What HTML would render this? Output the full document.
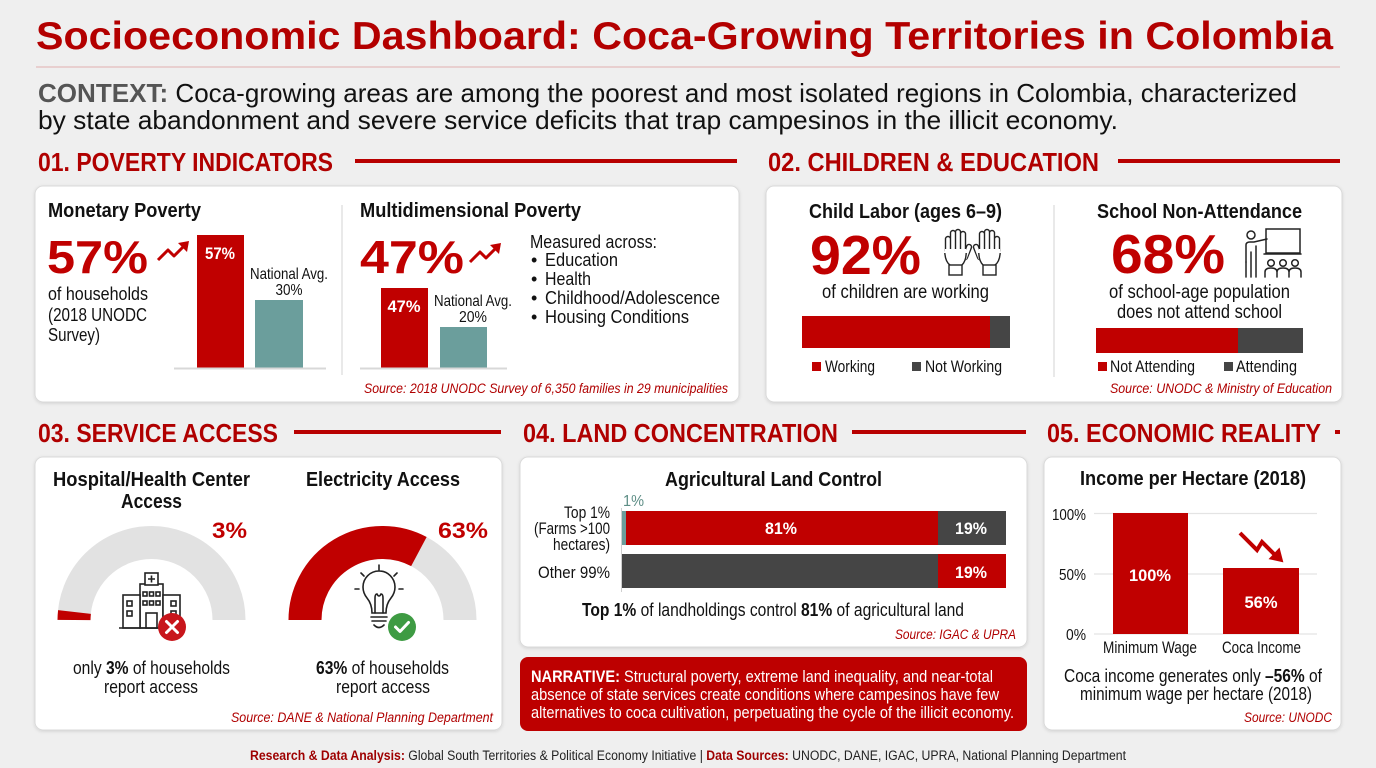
<!DOCTYPE html>
<html><head><meta charset="utf-8"><style>
html,body{margin:0;padding:0;background:#efefef;width:1376px;height:768px;overflow:hidden}
svg{display:block}
</style></head><body>
<svg width="1376" height="768" viewBox="0 0 1376 768" font-family="'Liberation Sans', Arial, sans-serif">
<defs>
<filter id="sh" x="-5%" y="-5%" width="110%" height="115%"><feDropShadow dx="0" dy="1" stdDeviation="1.5" flood-color="#000" flood-opacity="0.12"/></filter>
</defs>
<rect width="1376" height="768" fill="#efefef"/>

<!-- Title -->
<text x="36" y="49" font-size="39" font-weight="bold" fill="#b30000" textLength="1297" lengthAdjust="spacingAndGlyphs">Socioeconomic Dashboard: Coca-Growing Territories in Colombia</text>
<line x1="36" y1="67" x2="1340" y2="67" stroke="#e4bcbc" stroke-width="1.2"/>
<text x="38" y="102" font-size="26" fill="#111" textLength="1259" lengthAdjust="spacingAndGlyphs"><tspan font-weight="bold" fill="#555">CONTEXT:</tspan> Coca-growing areas are among the poorest and most isolated regions in Colombia, characterized</text>
<text x="38" y="129" font-size="26" fill="#111" textLength="1080" lengthAdjust="spacingAndGlyphs">by state abandonment and severe service deficits that trap campesinos in the illicit economy.</text>

<!-- Section headers -->
<g font-size="26" font-weight="bold" fill="#b00000">
<text x="38" y="171" textLength="295" lengthAdjust="spacingAndGlyphs">01. POVERTY INDICATORS</text>
<text x="768" y="171" textLength="331" lengthAdjust="spacingAndGlyphs">02. CHILDREN &amp; EDUCATION</text>
<text x="38" y="442" textLength="240" lengthAdjust="spacingAndGlyphs">03. SERVICE ACCESS</text>
<text x="523" y="442" textLength="315" lengthAdjust="spacingAndGlyphs">04. LAND CONCENTRATION</text>
<text x="1047" y="442" textLength="274" lengthAdjust="spacingAndGlyphs">05. ECONOMIC REALITY</text>
</g>
<g fill="#b80000">
<rect x="355" y="159" width="382" height="4"/>
<rect x="1118" y="159" width="222" height="4"/>
<rect x="294" y="430" width="207" height="4"/>
<rect x="852" y="430" width="174" height="4"/>
<rect x="1335" y="430" width="5" height="4"/>
</g>

<!-- Cards -->
<g fill="#fff" stroke="#dadada" stroke-width="1" filter="url(#sh)">
<rect x="35" y="186" width="704" height="216" rx="8"/>
<rect x="766" y="186" width="576" height="216" rx="8"/>
<rect x="35" y="457" width="467" height="273" rx="8"/>
<rect x="520" y="457" width="507" height="190" rx="8"/>
<rect x="1044" y="457" width="297" height="273" rx="8"/>
</g>
<rect x="520" y="657" width="507" height="74" rx="8" fill="#bd0000"/>

<!-- Card 1 -->
<text x="48" y="217" font-size="20" font-weight="bold" fill="#111" textLength="153" lengthAdjust="spacingAndGlyphs">Monetary Poverty</text>
<text x="47" y="273" font-size="46" font-weight="bold" fill="#c00000" textLength="101" lengthAdjust="spacingAndGlyphs">57%</text>
<g stroke="#c00000" stroke-width="3" fill="none" stroke-linejoin="round"><polyline points="158,260 168,250 174,256 184,246"/></g>
<polygon points="189,241 178,243 187,252" fill="#c00000"/>
<g font-size="18" fill="#111">
<text x="48" y="300" textLength="100" lengthAdjust="spacingAndGlyphs">of households</text>
<text x="48" y="321" textLength="99" lengthAdjust="spacingAndGlyphs">(2018 UNODC</text>
<text x="48" y="341" textLength="52" lengthAdjust="spacingAndGlyphs">Survey)</text>
</g>
<rect x="197" y="235" width="47" height="133" fill="#c00000"/>
<rect x="255" y="300" width="48" height="68" fill="#6b9e9c"/>
<line x1="174" y1="368.5" x2="326" y2="368.5" stroke="#d8d8d8" stroke-width="2"/>
<text x="220" y="259" font-size="17" font-weight="bold" fill="#fff" text-anchor="middle" textLength="30" lengthAdjust="spacingAndGlyphs">57%</text>
<text x="289" y="279" font-size="16" fill="#111" text-anchor="middle" textLength="78" lengthAdjust="spacingAndGlyphs">National Avg.</text>
<text x="289" y="295" font-size="16" fill="#111" text-anchor="middle" textLength="27" lengthAdjust="spacingAndGlyphs">30%</text>

<line x1="342" y1="205" x2="342" y2="375" stroke="#e2e2e2" stroke-width="1.5"/>

<text x="360" y="217" font-size="20" font-weight="bold" fill="#111" textLength="221" lengthAdjust="spacingAndGlyphs">Multidimensional Poverty</text>
<text x="360" y="273" font-size="46" font-weight="bold" fill="#c00000" textLength="104" lengthAdjust="spacingAndGlyphs">47%</text>
<g stroke="#c00000" stroke-width="3" fill="none" stroke-linejoin="round"><polyline points="470,262 480,252 486,258 496,248"/></g>
<polygon points="501,243 490,245 499,254" fill="#c00000"/>
<rect x="381" y="288" width="47" height="80" fill="#c00000"/>
<rect x="440" y="327" width="47" height="41" fill="#6b9e9c"/>
<line x1="360" y1="368.5" x2="507" y2="368.5" stroke="#d8d8d8" stroke-width="2"/>
<text x="404" y="312" font-size="17" font-weight="bold" fill="#fff" text-anchor="middle" textLength="33" lengthAdjust="spacingAndGlyphs">47%</text>
<text x="473" y="306" font-size="16" fill="#111" text-anchor="middle" textLength="78" lengthAdjust="spacingAndGlyphs">National Avg.</text>
<text x="473" y="322" font-size="16" fill="#111" text-anchor="middle" textLength="28" lengthAdjust="spacingAndGlyphs">20%</text>
<g font-size="18" fill="#111">
<text x="530" y="248" textLength="127" lengthAdjust="spacingAndGlyphs">Measured across:</text>
<text x="531" y="266">•</text><text x="545" y="266" textLength="73" lengthAdjust="spacingAndGlyphs">Education</text>
<text x="531" y="285">•</text><text x="545" y="285" textLength="46" lengthAdjust="spacingAndGlyphs">Health</text>
<text x="531" y="304">•</text><text x="545" y="304" textLength="175" lengthAdjust="spacingAndGlyphs">Childhood/Adolescence</text>
<text x="531" y="323">•</text><text x="545" y="323" textLength="144" lengthAdjust="spacingAndGlyphs">Housing Conditions</text>
</g>
<text x="364" y="393" font-size="13.5" font-style="italic" fill="#b00000" textLength="364" lengthAdjust="spacingAndGlyphs">Source: 2018 UNODC Survey of 6,350 families in 29 municipalities</text>

<!-- Card 2 -->
<text x="809" y="218" font-size="20" font-weight="bold" fill="#111" textLength="193" lengthAdjust="spacingAndGlyphs">Child Labor (ages 6–9)</text>
<text x="810" y="274" font-size="55" font-weight="bold" fill="#c00000" textLength="111" lengthAdjust="spacingAndGlyphs">92%</text>
<!-- hands -->
<g transform="translate(974,229)">
<g stroke="#222" stroke-width="6.4" stroke-linecap="round" fill="none">
<line x1="8" y1="20" x2="8" y2="5"/><line x1="13" y1="20" x2="13" y2="3"/><line x1="18" y1="20" x2="18" y2="4"/><line x1="23" y1="22" x2="23" y2="10"/><line x1="6" y1="28" x2="2" y2="18"/>
</g>
<g stroke="#fff" stroke-width="3.6" stroke-linecap="round" fill="none">
<line x1="8" y1="21" x2="8" y2="5"/><line x1="13" y1="21" x2="13" y2="3"/><line x1="18" y1="21" x2="18" y2="4"/><line x1="23" y1="23" x2="23" y2="10"/><line x1="6" y1="29" x2="2" y2="18"/>
</g>
<path d="M5,20 L26,20 L26,28 Q25,34 21,36 L9,36 Q5,32 5,26 Z" fill="#fff" stroke="none"/>
<path d="M4.8,24 Q5,32 9,36 M21,36 Q25.5,33 26.2,24" fill="none" stroke="#222" stroke-width="1.4"/>
<rect x="9" y="36" width="13" height="10" fill="#fff" stroke="#222" stroke-width="1.4"/>
</g>
<g transform="translate(971,229) scale(-1,1)">
<g stroke="#222" stroke-width="6.4" stroke-linecap="round" fill="none">
<line x1="8" y1="20" x2="8" y2="5"/><line x1="13" y1="20" x2="13" y2="3"/><line x1="18" y1="20" x2="18" y2="4"/><line x1="23" y1="22" x2="23" y2="10"/><line x1="6" y1="28" x2="2" y2="18"/>
</g>
<g stroke="#fff" stroke-width="3.6" stroke-linecap="round" fill="none">
<line x1="8" y1="21" x2="8" y2="5"/><line x1="13" y1="21" x2="13" y2="3"/><line x1="18" y1="21" x2="18" y2="4"/><line x1="23" y1="23" x2="23" y2="10"/><line x1="6" y1="29" x2="2" y2="18"/>
</g>
<path d="M5,20 L26,20 L26,28 Q25,34 21,36 L9,36 Q5,32 5,26 Z" fill="#fff" stroke="none"/>
<path d="M4.8,24 Q5,32 9,36 M21,36 Q25.5,33 26.2,24" fill="none" stroke="#222" stroke-width="1.4"/>
<rect x="9" y="36" width="13" height="10" fill="#fff" stroke="#222" stroke-width="1.4"/>
</g>
<text x="822" y="298" font-size="19" fill="#111" textLength="167" lengthAdjust="spacingAndGlyphs">of children are working</text>
<rect x="802" y="316" width="188" height="32" fill="#c00000"/>
<rect x="990" y="316" width="20" height="32" fill="#454545"/>
<rect x="812" y="362" width="9" height="9" fill="#c00000"/>
<text x="825" y="372" font-size="17" fill="#111" textLength="50" lengthAdjust="spacingAndGlyphs">Working</text>
<rect x="912" y="362" width="9" height="9" fill="#454545"/>
<text x="925" y="372" font-size="17" fill="#111" textLength="77" lengthAdjust="spacingAndGlyphs">Not Working</text>

<line x1="1054" y1="205" x2="1054" y2="377" stroke="#e2e2e2" stroke-width="1.5"/>

<text x="1097" y="218" font-size="20" font-weight="bold" fill="#111" textLength="205" lengthAdjust="spacingAndGlyphs">School Non-Attendance</text>
<text x="1111" y="273" font-size="55" font-weight="bold" fill="#c00000" textLength="114" lengthAdjust="spacingAndGlyphs">68%</text>
<!-- teacher -->
<g stroke="#222" stroke-width="1.5" fill="none" stroke-linecap="round">
<circle cx="1251" cy="235" r="4"/>
<path d="M1246,262 L1246,245 Q1246,242 1250,242 L1254,242 L1267,239"/>
<path d="M1256,246 L1256,262 M1251,252 L1251,277 M1256,262 L1256,277 M1246,262 L1246,277"/>
<rect x="1266" y="229" width="34" height="24"/>
<line x1="1264" y1="254" x2="1301" y2="254"/>
<circle cx="1271" cy="263" r="3.3"/><circle cx="1283" cy="263" r="3.3"/><circle cx="1295" cy="263" r="3.3"/>
<path d="M1265,277 L1265,272 Q1265,268 1271,268 Q1277,268 1277,272 L1277,277 M1277,272 Q1277,268 1283,268 Q1289,268 1289,272 L1289,277 M1289,272 Q1289,268 1295,268 Q1301,268 1301,272 L1301,277"/>
</g>
<text x="1109" y="298" font-size="19" fill="#111" textLength="181" lengthAdjust="spacingAndGlyphs">of school-age population</text>
<text x="1117" y="318" font-size="19" fill="#111" textLength="165" lengthAdjust="spacingAndGlyphs">does not attend school</text>
<rect x="1096" y="328" width="142" height="25" fill="#c00000"/>
<rect x="1238" y="328" width="65" height="25" fill="#454545"/>
<rect x="1098" y="362" width="9" height="9" fill="#c00000"/>
<text x="1110" y="372" font-size="17" fill="#111" textLength="85" lengthAdjust="spacingAndGlyphs">Not Attending</text>
<rect x="1224" y="362" width="9" height="9" fill="#454545"/>
<text x="1236" y="372" font-size="17" fill="#111" textLength="61" lengthAdjust="spacingAndGlyphs">Attending</text>
<text x="1110" y="393" font-size="13.5" font-style="italic" fill="#b00000" textLength="222" lengthAdjust="spacingAndGlyphs">Source: UNODC &amp; Ministry of Education</text>

<!-- Card 3 -->
<text x="53" y="486" font-size="20" font-weight="bold" fill="#111" textLength="197" lengthAdjust="spacingAndGlyphs">Hospital/Health Center</text>
<text x="121" y="508" font-size="20" font-weight="bold" fill="#111" textLength="61" lengthAdjust="spacingAndGlyphs">Access</text>
<text x="306" y="486" font-size="20" font-weight="bold" fill="#111" textLength="154" lengthAdjust="spacingAndGlyphs">Electricity Access</text>
<path d="M74,620 A77.5,77.5 0 0 1 229,620" fill="none" stroke="#e2e2e2" stroke-width="33"/>
<path d="M74,620 A77.5,77.5 0 0 1 74.5,612" fill="none" stroke="#c00000" stroke-width="33"/>
<path d="M305,620 A77.5,77.5 0 0 1 460,620" fill="none" stroke="#e2e2e2" stroke-width="33"/>
<path d="M305,620 A77.5,77.5 0 0 1 418.9,551.6" fill="none" stroke="#c00000" stroke-width="33"/>
<text x="212" y="538" font-size="22" font-weight="bold" fill="#c00000" textLength="35" lengthAdjust="spacingAndGlyphs">3%</text>
<text x="438" y="538" font-size="22" font-weight="bold" fill="#c00000" textLength="50" lengthAdjust="spacingAndGlyphs">63%</text>
<!-- hospital -->
<g stroke="#222" stroke-width="1.6" fill="#fff">
<rect x="140" y="584" width="23" height="44"/>
<rect x="123" y="595" width="17" height="33"/>
<rect x="163" y="595" width="17" height="33"/>
<rect x="145" y="573" width="13" height="12"/>
<rect x="146" y="613" width="11" height="15"/>
<rect x="127" y="601" width="5" height="5"/><rect x="127" y="611" width="5" height="5"/>
<rect x="171" y="601" width="5" height="5"/><rect x="171" y="611" width="5" height="5"/>
<rect x="143" y="592" width="4" height="4"/><rect x="149.5" y="592" width="4" height="4"/><rect x="156" y="592" width="4" height="4"/>
<rect x="143" y="601" width="4" height="4"/><rect x="149.5" y="601" width="4" height="4"/><rect x="156" y="601" width="4" height="4"/>
<line x1="119" y1="628" x2="184" y2="628"/>
</g>
<path d="M151.5,575.5 v7 M148,579 h7" stroke="#222" stroke-width="1.6"/>
<circle cx="172" cy="627" r="14" fill="#c8161c"/>
<path d="M166.5,621.5 L177.5,632.5 M177.5,621.5 L166.5,632.5" stroke="#fff" stroke-width="3" stroke-linecap="round"/>
<!-- bulb -->
<g stroke="#222" stroke-width="1.6" fill="none" stroke-linecap="round">
<path d="M372,613 Q372,604 367,598 Q363,593 363,587 A16,16 0 0 1 395,587 Q395,593 391,598 Q386,604 386,613 Z" fill="#fff"/>
<path d="M375,613 L375,598 Q375,594 377,594 M383,613 L383,598 Q383,594 381,594 M377,594 Q379,598 381,594"/>
<line x1="371" y1="617" x2="387" y2="617"/><line x1="372" y1="621" x2="386" y2="621"/>
<path d="M374,625 Q379,630 384,625"/>
<line x1="379" y1="565" x2="379" y2="570"/>
<line x1="361" y1="573" x2="364" y2="576"/><line x1="397" y1="573" x2="394" y2="576"/>
<line x1="355" y1="589" x2="359" y2="589"/><line x1="399" y1="589" x2="403" y2="589"/>
</g>
<circle cx="402" cy="627" r="14" fill="#3e9b43"/>
<path d="M395.5,627 L400,631.5 L408.5,622.5" stroke="#fff" stroke-width="3" fill="none" stroke-linecap="round" stroke-linejoin="round"/>
<text x="73" y="674" font-size="18" fill="#111" textLength="157" lengthAdjust="spacingAndGlyphs">only <tspan font-weight="bold">3%</tspan> of households</text>
<text x="104" y="693" font-size="18" fill="#111" textLength="94" lengthAdjust="spacingAndGlyphs">report access</text>
<text x="316" y="674" font-size="18" fill="#111" textLength="133" lengthAdjust="spacingAndGlyphs"><tspan font-weight="bold">63%</tspan> of households</text>
<text x="336" y="693" font-size="18" fill="#111" textLength="94" lengthAdjust="spacingAndGlyphs">report access</text>
<text x="231" y="722" font-size="13.5" font-style="italic" fill="#b00000" textLength="262" lengthAdjust="spacingAndGlyphs">Source: DANE &amp; National Planning Department</text>

<!-- Card 4 -->
<text x="665" y="486" font-size="20" font-weight="bold" fill="#111" textLength="217" lengthAdjust="spacingAndGlyphs">Agricultural Land Control</text>
<text x="623" y="506" font-size="16" fill="#5e8e86" textLength="21" lengthAdjust="spacingAndGlyphs">1%</text>
<g font-size="17" fill="#111" text-anchor="end">
<text x="610" y="518" textLength="46" lengthAdjust="spacingAndGlyphs">Top 1%</text>
<text x="610" y="534" textLength="76" lengthAdjust="spacingAndGlyphs">(Farms &gt;100</text>
<text x="610" y="550" textLength="57" lengthAdjust="spacingAndGlyphs">hectares)</text>
<text x="610" y="578" textLength="72" lengthAdjust="spacingAndGlyphs">Other 99%</text>
</g>
<line x1="621.5" y1="508" x2="621.5" y2="592" stroke="#cfcfcf" stroke-width="1"/>
<rect x="622" y="511" width="4" height="34" fill="#6b9e9c"/>
<rect x="626" y="511" width="312" height="34" fill="#c00000"/>
<rect x="938" y="511" width="68" height="34" fill="#454545"/>
<rect x="622" y="554" width="316" height="34" fill="#454545"/>
<rect x="938" y="554" width="68" height="34" fill="#c00000"/>
<g font-size="17" font-weight="bold" fill="#fff" text-anchor="middle">
<text x="781" y="534" textLength="32" lengthAdjust="spacingAndGlyphs">81%</text>
<text x="971" y="534" textLength="32" lengthAdjust="spacingAndGlyphs">19%</text>
<text x="971" y="578" textLength="32" lengthAdjust="spacingAndGlyphs">19%</text>
</g>
<text x="582" y="616" font-size="18" fill="#111" textLength="382" lengthAdjust="spacingAndGlyphs"><tspan font-weight="bold">Top 1%</tspan> of landholdings control <tspan font-weight="bold">81%</tspan> of agricultural land</text>
<text x="1016" y="639" font-size="13.5" font-style="italic" fill="#b00000" text-anchor="end" textLength="121" lengthAdjust="spacingAndGlyphs">Source: IGAC &amp; UPRA</text>

<!-- Narrative -->
<g font-size="17" fill="#fff">
<text x="531" y="682" textLength="462" lengthAdjust="spacingAndGlyphs"><tspan font-weight="bold">NARRATIVE:</tspan> Structural poverty, extreme land inequality, and near-total</text>
<text x="531" y="700" textLength="468" lengthAdjust="spacingAndGlyphs">absence of state services create conditions where campesinos have few</text>
<text x="531" y="718" textLength="483" lengthAdjust="spacingAndGlyphs">alternatives to coca cultivation, perpetuating the cycle of the illicit economy.</text>
</g>

<!-- Card 5 -->
<text x="1080" y="485" font-size="20" font-weight="bold" fill="#111" textLength="226" lengthAdjust="spacingAndGlyphs">Income per Hectare (2018)</text>
<g stroke="#e4e4e4" stroke-width="1.2">
<line x1="1094" y1="513.5" x2="1317" y2="513.5"/>
<line x1="1094" y1="574" x2="1317" y2="574"/>
<line x1="1094" y1="634" x2="1317" y2="634"/>
</g>
<g font-size="16" fill="#111" text-anchor="end">
<text x="1086" y="520" textLength="34" lengthAdjust="spacingAndGlyphs">100%</text>
<text x="1086" y="580" textLength="27" lengthAdjust="spacingAndGlyphs">50%</text>
<text x="1086" y="640" textLength="20" lengthAdjust="spacingAndGlyphs">0%</text>
</g>
<rect x="1113" y="513" width="75" height="121" fill="#c00000"/>
<rect x="1223" y="568" width="76" height="66" fill="#c00000"/>
<text x="1150" y="581" font-size="17" font-weight="bold" fill="#fff" text-anchor="middle" textLength="42" lengthAdjust="spacingAndGlyphs">100%</text>
<text x="1261" y="608" font-size="17" font-weight="bold" fill="#fff" text-anchor="middle" textLength="33" lengthAdjust="spacingAndGlyphs">56%</text>
<polyline points="1240,533 1257,550 1262,542 1276,556" fill="none" stroke="#c00000" stroke-width="4" stroke-linejoin="miter"/>
<polygon points="1282,561 1270.5,558.5 1279,549.5" fill="#c00000" stroke="#c00000" stroke-width="2"/>
<text x="1103" y="653" font-size="17" fill="#111" textLength="94" lengthAdjust="spacingAndGlyphs">Minimum Wage</text>
<text x="1222" y="653" font-size="17" fill="#111" textLength="79" lengthAdjust="spacingAndGlyphs">Coca Income</text>
<text x="1064" y="682" font-size="18" fill="#111" textLength="258" lengthAdjust="spacingAndGlyphs">Coca income generates only <tspan font-weight="bold">–56%</tspan> of</text>
<text x="1080" y="700" font-size="18" fill="#111" textLength="232" lengthAdjust="spacingAndGlyphs">minimum wage per hectare (2018)</text>
<text x="1332" y="722" font-size="13.5" font-style="italic" fill="#b00000" text-anchor="end" textLength="88" lengthAdjust="spacingAndGlyphs">Source: UNODC</text>

<!-- Footer -->
<text x="250" y="760" font-size="13.5" fill="#222" textLength="876" lengthAdjust="spacingAndGlyphs"><tspan font-weight="bold" fill="#9e0000">Research &amp; Data Analysis:</tspan> Global South Territories &amp; Political Economy Initiative  | <tspan font-weight="bold" fill="#9e0000">Data Sources:</tspan> UNODC, DANE, IGAC, UPRA, National Planning Department</text>
</svg>
</body></html>
